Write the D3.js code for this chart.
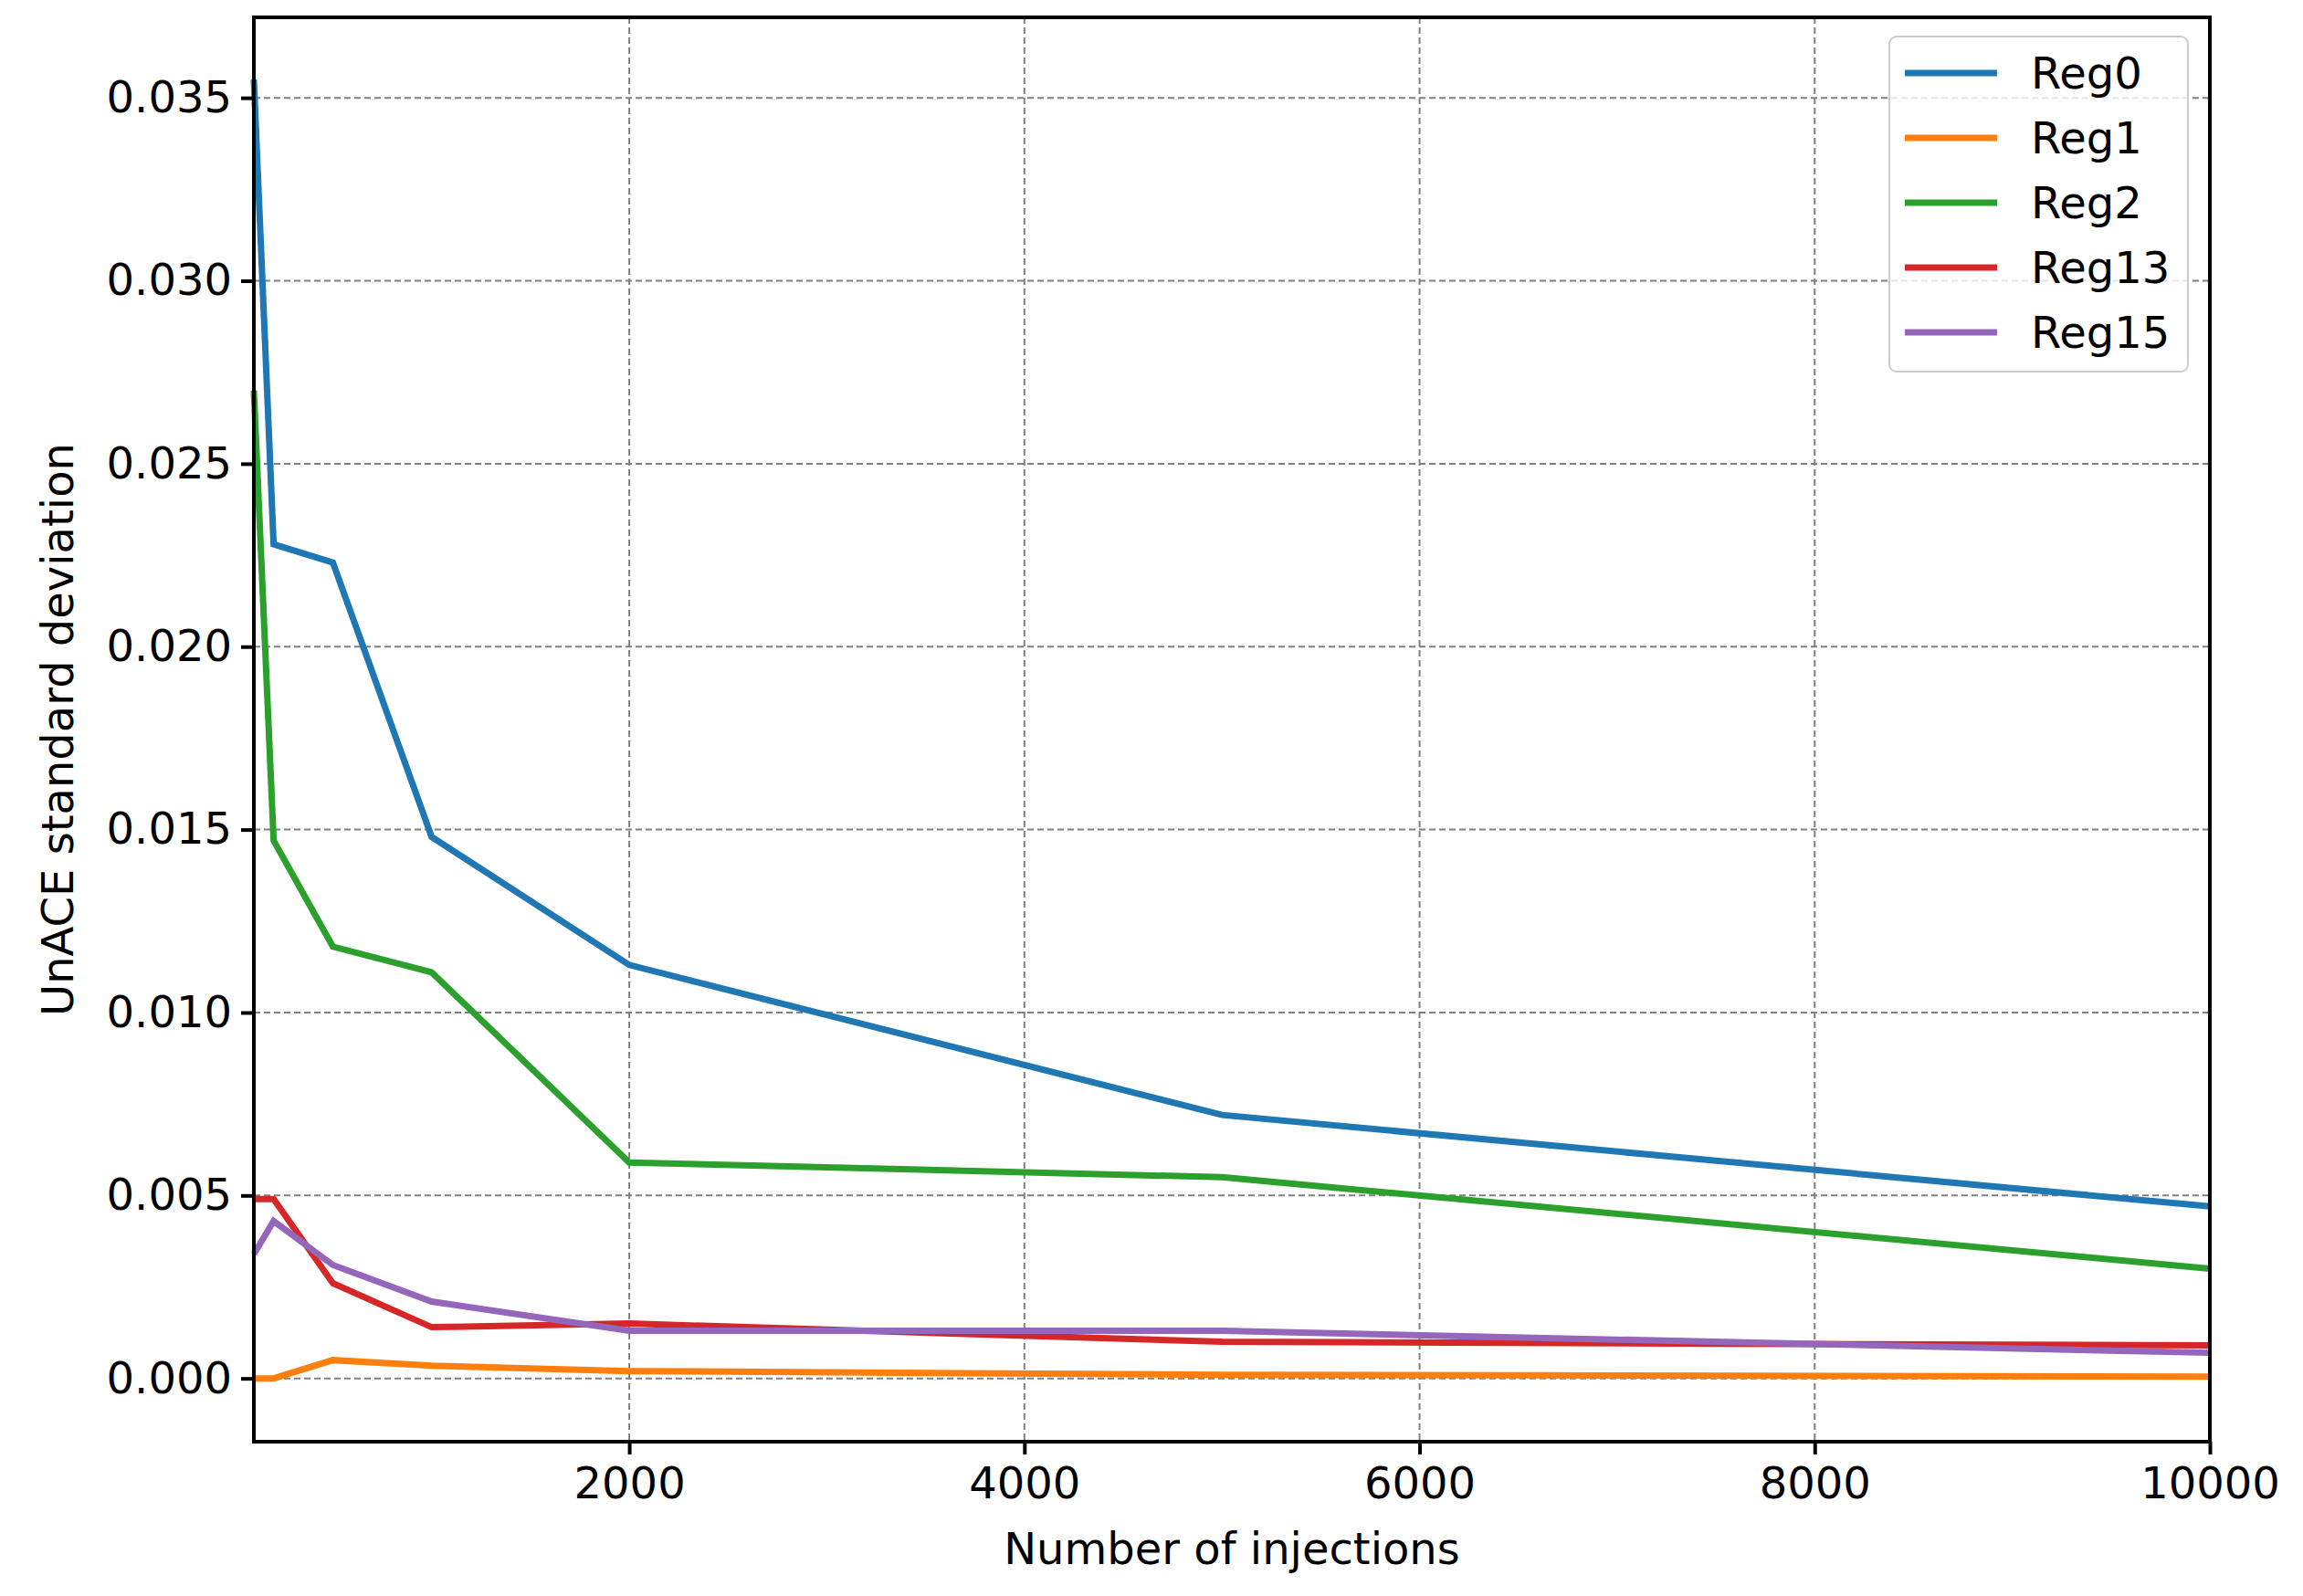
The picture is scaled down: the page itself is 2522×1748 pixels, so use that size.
<!DOCTYPE html>
<html><head><meta charset="utf-8">
<script src="https://cdn.jsdelivr.net/npm/d3@7"></script>
<style>body{margin:0;background:#fff}svg{display:block;font-family:"DejaVu Sans",sans-serif}</style>
</head><body><svg id="c" width="2522" height="1748"></svg>
<script>
const xValues = [100, 200, 500, 1000, 2000, 5000, 10000];
const seriesNames = ["Reg0", "Reg1", "Reg2", "Reg13", "Reg15"];
const reg0 = [0.0355, 0.0228, 0.0223, 0.0148, 0.0113, 0.0072, 0.0047];
const reg1 = [0.0000, 0.0000, 0.0005, 0.00035, 0.0002, 0.0001, 0.00005];
const reg2 = [0.0270, 0.0147, 0.0118, 0.0111, 0.0059, 0.0055, 0.0030];
const reg13 = [0.0049, 0.0049, 0.0026, 0.0014, 0.0015, 0.0010, 0.0009];
const reg15 = [0.0034, 0.0043, 0.0031, 0.0021, 0.0013, 0.0013, 0.0007];
const colors = ["#1f77b4", "#ff7f0e", "#2ca02c", "#d62728", "#9467bd"];
const xTicks = [2000, 4000, 6000, 8000, 10000];
const yTicks = [0, 0.005, 0.01, 0.015, 0.02, 0.025, 0.03, 0.035];
const allSeries = [reg0, reg1, reg2, reg13, reg15];

const L = 278, R = 2420, T = 19, B = 1579;
const FS = 48;
const svg = d3.select("#c");
const x = d3.scaleLinear().domain([100, 10000]).range([L, R]);
const y = d3.scaleLinear().domain([-0.00173, 0.0372]).range([B, T]);

svg.append("g").selectAll("line").data(xTicks).join("line")
  .attr("x1", d => x(d)).attr("x2", d => x(d)).attr("y1", T).attr("y2", B)
  .attr("stroke", "#808080").attr("stroke-width", 2).attr("stroke-dasharray", "7,4");
svg.append("g").selectAll("line").data(yTicks).join("line")
  .attr("y1", d => y(d)).attr("y2", d => y(d)).attr("x1", L).attr("x2", R)
  .attr("stroke", "#808080").attr("stroke-width", 2).attr("stroke-dasharray", "7,4");

const line = d3.line().x((d, i) => x(xValues[i])).y(d => y(d));
allSeries.forEach((s, k) => {
  svg.append("path").datum(s).attr("d", line).attr("fill", "none")
    .attr("stroke", colors[k]).attr("stroke-width", 7);
});

const xa = svg.append("g").attr("transform", `translate(0,${B})`)
  .call(d3.axisBottom(x).tickValues(xTicks).tickSize(14).tickPadding(14).tickFormat(d3.format("d")));
const ya = svg.append("g").attr("transform", `translate(${L},0)`)
  .call(d3.axisLeft(y).tickValues(yTicks).tickSize(14).tickPadding(10).tickFormat(d3.format(".3f")));
[xa, ya].forEach(a => {
  a.selectAll("text").attr("font-size", FS).attr("fill", "#000").attr("font-family", "DejaVu Sans");
  a.selectAll("line").attr("stroke-width", 4);
  a.select(".domain").remove();
});
svg.append("rect").attr("x", L).attr("y", T).attr("width", R - L).attr("height", B - T)
  .attr("fill", "none").attr("stroke", "#000").attr("stroke-width", 4);

svg.append("text").attr("x", (L + R) / 2).attr("y", 1713).attr("text-anchor", "middle")
  .attr("font-size", FS).text("Number of injections");
svg.append("text").attr("transform", `translate(80,${(T + B) / 2}) rotate(-90)`)
  .attr("text-anchor", "middle").attr("font-size", FS).text("UnACE standard deviation");

const lg = svg.append("g");
lg.append("rect").attr("x", 2069).attr("y", 40).attr("width", 327).attr("height", 367).attr("rx", 8)
  .attr("fill", "#fff").attr("fill-opacity", 0.8).attr("stroke", "#ccc").attr("stroke-width", 2);
seriesNames.forEach((n, i) => {
  const yy = 80 + i * 71;
  lg.append("line").attr("x1", 2086).attr("x2", 2187).attr("y1", yy).attr("y2", yy)
    .attr("stroke", colors[i]).attr("stroke-width", 7);
  lg.append("text").attr("x", 2224).attr("y", yy + 17).attr("font-size", FS).text(n);
});
</script></body></html>
